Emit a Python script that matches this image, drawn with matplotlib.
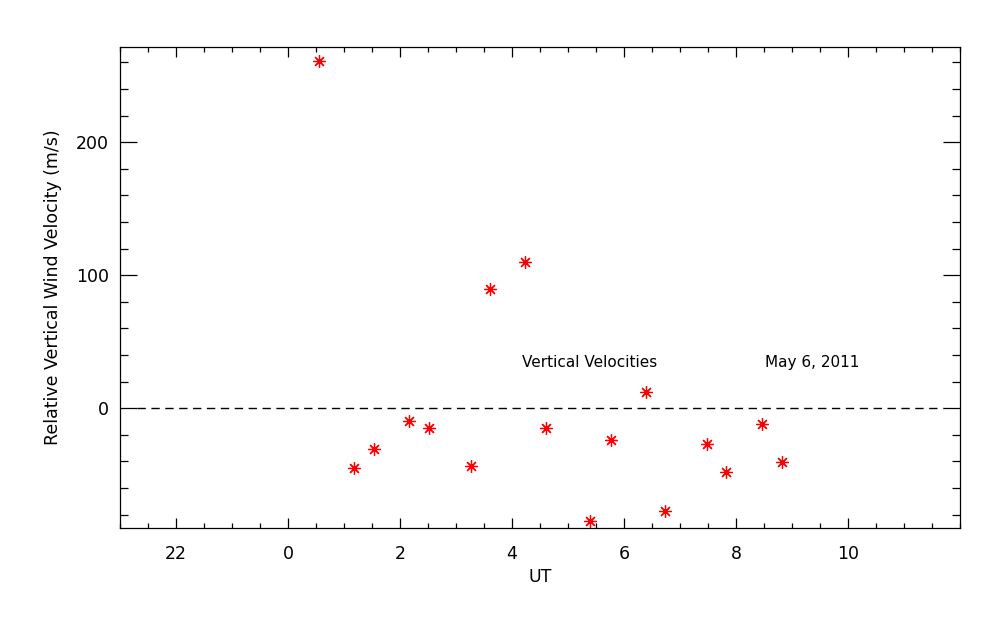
import matplotlib.pyplot as plt
from matplotlib.ticker import MultipleLocator, FixedLocator, FuncFormatter

# UT hours (values before 0 belong to the previous day), velocities in m/s
ut_hours = [0.56, 1.18, 1.54, 2.16, 2.52, 3.26, 3.61, 4.24, 4.60,
            5.40, 5.76, 6.39, 6.74, 7.48, 7.83, 8.46, 8.82]
velocity = [261.3, -45.0, -30.8, -9.8, -15.0, -43.5, 89.5, 109.7, -15.0,
            -85.0, -24.0, 12.0, -77.0, -27.0, -48.0, -11.7, -40.3]
x_major = [-2, 0, 2, 4, 6, 8, 10]

title_text = "Vertical Velocities"
date_text = "May 6, 2011"

plt.rcParams['font.family'] = ['DejaVu Sans']

fig = plt.figure(figsize=(10, 6.25), dpi=100)
ax = fig.add_axes([0.12, 0.1552, 0.84, 0.7696])

# zero line, starts after the left major tick like the original
ax.plot([-2.7, 11.7], [0, 0], color='black', lw=1, dashes=(6, 4), zorder=1)

ax.plot(ut_hours, velocity, linestyle='none', marker=(8, 2, 0),
        markersize=9, color='red', markeredgecolor='red',
        markeredgewidth=0.9, zorder=3)

ax.set_xlim(-3, 12)
ax.set_ylim(-90, 271.5)

ax.xaxis.set_major_locator(FixedLocator(x_major))
ax.xaxis.set_minor_locator(MultipleLocator(0.5))
ax.yaxis.set_major_locator(MultipleLocator(100))
ax.yaxis.set_minor_locator(MultipleLocator(20))
ax.xaxis.set_major_formatter(FuncFormatter(lambda v, p: '%d' % (int(round(v)) % 24)))

ax.tick_params(which='both', direction='in', top=True, right=True,
               width=0.9, colors='black', labelsize=12.5)
ax.tick_params(axis='x', which='major', length=7, pad=12)
ax.tick_params(axis='x', which='minor', length=3.5)
ax.tick_params(axis='y', which='major', length=12, pad=8)
ax.tick_params(axis='y', which='minor', length=6)

for s in ax.spines.values():
    s.set_linewidth(0.9)

ax.set_xlabel('UT', fontsize=12.5, labelpad=4)
ax.set_ylabel('Relative Vertical Wind Velocity (m/s)', fontsize=12.5, labelpad=10)

ax.text(4.17, 31, title_text, fontsize=11, va='baseline', ha='left')
ax.text(8.52, 31, date_text, fontsize=11, va='baseline', ha='left')

fig.savefig('out.png', dpi=100)
